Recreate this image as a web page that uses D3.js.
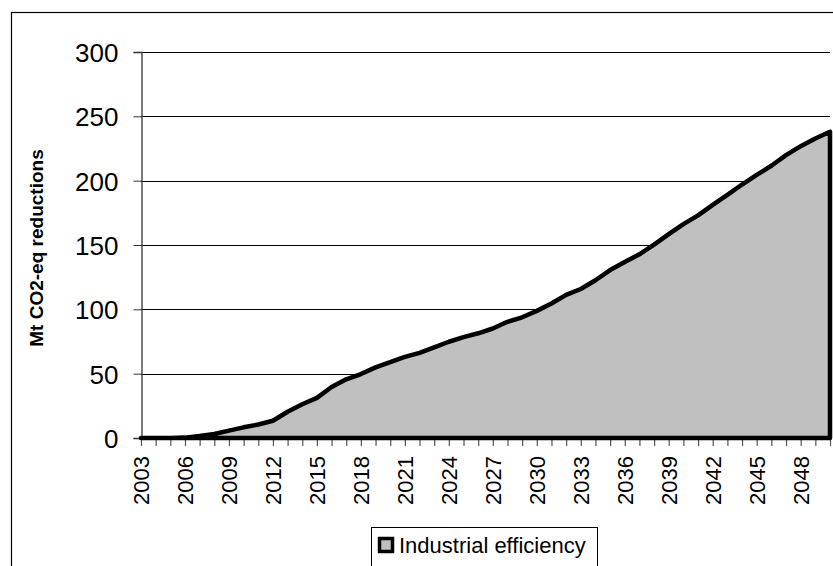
<!DOCTYPE html>
<html>
<head>
<meta charset="utf-8">
<script src="https://cdn.jsdelivr.net/npm/d3@7"></script>
<style>
  html, body { margin: 0; padding: 0; background: #fff; }
  svg { display: block; font-family: "Liberation Sans", Arial, sans-serif; }
</style>
</head>
<body>
<svg id="chart" width="833" height="566"></svg>
<script>
// Cumulative emission reductions from industrial efficiency, 2003–2050
const years = d3.range(2003, 2051);
const reductions = [
  0, 0, 0, 0.3, 1.5, 3.1, 5.7, 8.3, 10.5, 13.4,
  20.4, 26.2, 31.2, 39.6, 45.6, 49.7, 54.9, 59.0, 63.0, 66.2,
  70.4, 74.8, 78.4, 81.4, 85.1, 90.3, 93.8, 98.8, 104.5, 111.2,
  115.8, 122.6, 130.5, 136.8, 142.8, 150.3, 158.4, 166.2, 173.0, 181.2,
  189.0, 197.0, 204.5, 211.6, 219.8, 226.8, 232.8, 238.0
];
const yTicks = [0, 50, 100, 150, 200, 250, 300];
const labelYears = years.filter(y => (y - 2003) % 3 === 0);
const seriesName = "Industrial efficiency";
const yTitle = "Mt CO2-eq reductions";

const svg = d3.select("#chart");

// chart frame
svg.append("rect")
  .attr("x", 11.5).attr("y", 12.5)
  .attr("width", 840).attr("height", 620)
  .attr("fill", "#fff").attr("stroke", "#000").attr("stroke-width", 1.2);

const x = d3.scalePoint().domain(years).range([141, 830]).padding(0);
const y = d3.scaleLinear().domain([0, 300]).range([438, 52]);

// horizontal gridlines
svg.append("g")
  .selectAll("line")
  .data(yTicks.filter(v => v > 0))
  .join("line")
  .attr("x1", 141).attr("x2", 830)
  .attr("y1", d => Math.round(y(d)) + 0.5)
  .attr("y2", d => Math.round(y(d)) + 0.5)
  .attr("stroke", "#000").attr("stroke-width", 1);

// y axis
const yAxis = svg.append("g")
  .attr("transform", "translate(141.5,0)")
  .call(d3.axisLeft(y).tickValues(yTicks).tickSize(8).tickPadding(15));
yAxis.select(".domain").attr("stroke", "#333").attr("stroke-width", 1.3);
yAxis.selectAll(".tick line").attr("stroke", "#333");
yAxis.selectAll(".tick text")
  .attr("fill", "#000")
  .style("font-size", "26px")
  .attr("dy", "0.36em");

// x axis ticks and labels
const xAxis = svg.append("g")
  .attr("transform", "translate(0,439)")
  .call(d3.axisBottom(x).tickSize(7)
    .tickFormat(d => labelYears.includes(d) ? String(d) : ""));
xAxis.select(".domain").remove();
xAxis.selectAll(".tick line").attr("stroke", "#555").attr("stroke-width", 1.2);
xAxis.selectAll(".tick text")
  .attr("fill", "#000")
  .style("font-size", "22px")
  .attr("text-anchor", "end")
  .attr("transform", "rotate(-90)")
  .attr("x", -17)
  .attr("y", 0)
  .attr("dy", "0.36em");

// area series
const data = years.map((yr, i) => ({ yr, v: reductions[i] }));
const area = d3.area()
  .x(d => x(d.yr))
  .y0(y(0))
  .y1(d => y(d.v));
svg.append("path")
  .datum(data)
  .attr("d", d => area(d))
  .attr("fill", "#c0c0c0")
  .attr("stroke", "#000")
  .attr("stroke-width", 4.5)
  .attr("stroke-linejoin", "round");

// y axis title
svg.append("text")
  .attr("transform", `translate(43,${(52 + 438) / 2 + 3}) rotate(-90)`)
  .attr("text-anchor", "middle")
  .style("font-size", "19px")
  .style("font-weight", "bold")
  .text(yTitle);

// legend
const legend = svg.append("g");
legend.append("rect")
  .attr("x", 371.5).attr("y", 527.5)
  .attr("width", 226).attr("height", 60)
  .attr("fill", "#fff").attr("stroke", "#000").attr("stroke-width", 1);
legend.append("rect")
  .attr("x", 379.5).attr("y", 538.5)
  .attr("width", 13).attr("height", 13)
  .attr("fill", "#c0c0c0").attr("stroke", "#000").attr("stroke-width", 3.5);
legend.append("text")
  .attr("x", 399).attr("y", 552.5)
  .style("font-size", "22px")
  .text(seriesName);
</script>
</body>
</html>
